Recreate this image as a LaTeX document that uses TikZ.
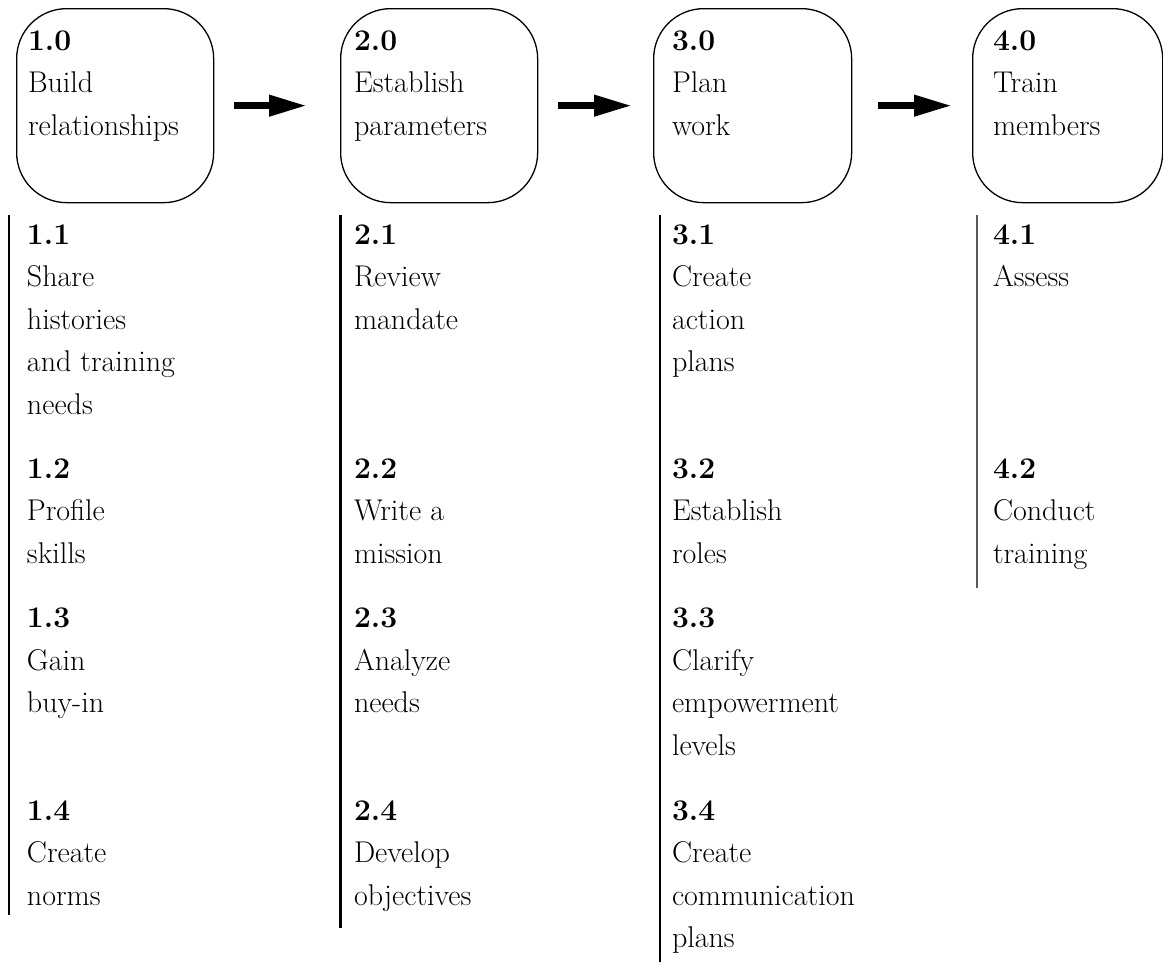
\documentclass[tikz,border=0pt]{standalone}
\usepackage{fontspec}
\usetikzlibrary{arrows.meta}

% text block: first line sits on the node's base line
\newcommand\stepcell[1]{\parbox[t]{230pt}{\fontsize{30pt}{42.5pt}\selectfont\raggedright #1}}

\begin{document}
\begin{tikzpicture}[x=1pt,y=-1pt,
  phasebox/.style={draw, line width=1.3pt, rounded corners=50pt, anchor=north west,
                   inner sep=0pt, minimum height=194pt},
  itemtext/.style={anchor=base west, inner sep=0pt, outer sep=0pt},
  flow/.style={line width=7pt, -{Triangle[length=38pt 0, width=20pt 0]}},
  rail/.style={line width=1.3pt}]

\useasboundingbox (0,0) rectangle (1163,962);

% phase boxes
\node[phasebox, minimum width=197pt] (b1) at (16,8) {};
\node[phasebox, minimum width=197pt] (b2) at (340,8) {};
\node[phasebox, minimum width=198pt] (b3) at (653,8) {};
\node[phasebox, minimum width=190pt] (b4) at (972,8) {};

\node[itemtext] (t10) at (28,50)  {\stepcell{\textbf{1.0}\\Build\\relationships}};
\node[itemtext] (t20) at (354,50) {\stepcell{\textbf{2.0}\\Establish\\parameters}};
\node[itemtext] (t30) at (672,50) {\stepcell{\textbf{3.0}\\Plan\\work}};
\node[itemtext] (t40) at (993,50) {\stepcell{\textbf{4.0}\\Train\\members}};

% flow between phases
\draw[flow, shorten <=20pt, shorten >=33pt] (b1.east) -- (b2.west);
\draw[flow, shorten <=20pt, shorten >=21pt] (b2.east) -- (b3.west);
\draw[flow, shorten <=26pt, shorten >=20pt] (b3.east) -- (b4.west);

% rails under each phase
\coordinate (r1a) at (9,215);    \coordinate (r1b) at (9,915);
\coordinate (r2a) at (340.5,215); \coordinate (r2b) at (340.5,928);
\coordinate (r3a) at (660,215);  \coordinate (r3b) at (660,962);
\coordinate (r4a) at (977,215);  \coordinate (r4b) at (977,588);
\draw[rail] (r1a) -- (r1b);
\draw[rail, line width=2.2pt] (r2a) -- (r2b);
\draw[rail] (r3a) -- (r3b);
\draw[rail, line width=1.8pt, black!65] (r4a) -- (r4b);

% column 1
\node[itemtext] (t11) at (27,244)   {\stepcell{\textbf{1.1}\\Share\\histories\\and training\\needs}};
\node[itemtext] (t12) at (27,478)   {\stepcell{\textbf{1.2}\\Profile\\skills}};
\node[itemtext] (t13) at (27,627.5) {\stepcell{\textbf{1.3}\\Gain\\buy-in}};
\node[itemtext] (t14) at (27,820)   {\stepcell{\textbf{1.4}\\Create\\norms}};

% column 2
\node[itemtext] (t21) at (354,244)   {\stepcell{\textbf{2.1}\\Review\\mandate}};
\node[itemtext] (t22) at (354,478)   {\stepcell{\textbf{2.2}\\Write a\\mission}};
\node[itemtext] (t23) at (354,627.5) {\stepcell{\textbf{2.3}\\Analyze\\needs}};
\node[itemtext] (t24) at (354,820)   {\stepcell{\textbf{2.4}\\Develop\\objectives}};

% column 3
\node[itemtext] (t31) at (672,244)   {\stepcell{\textbf{3.1}\\Create\\action\\plans}};
\node[itemtext] (t32) at (672,478)   {\stepcell{\textbf{3.2}\\Establish\\roles}};
\node[itemtext] (t33) at (672,627.5) {\stepcell{\textbf{3.3}\\Clarify\\empowerment\\levels}};
\node[itemtext] (t34) at (672,820)   {\stepcell{\textbf{3.4}\\Create\\communication\\plans}};

% column 4
\node[itemtext] (t41) at (993,244) {\stepcell{\textbf{4.1}\\Assess}};
\node[itemtext] (t42) at (993,478) {\stepcell{\textbf{4.2}\\Conduct\\training}};

\end{tikzpicture}
\end{document}
